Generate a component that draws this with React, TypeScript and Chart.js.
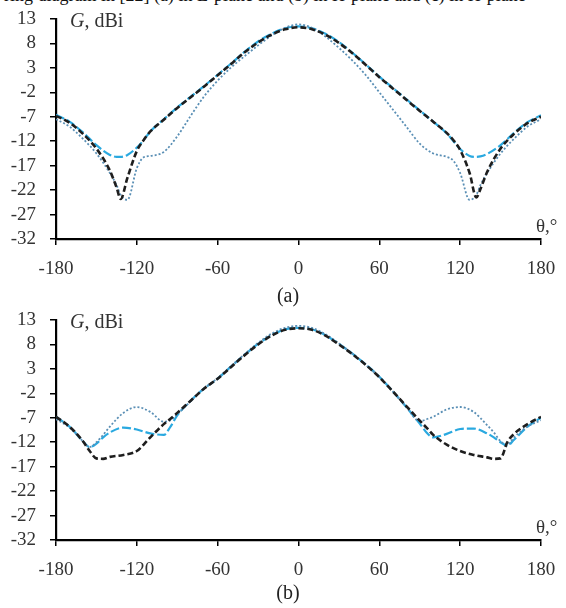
import React, { useEffect, useRef } from 'react';
import { Chart, registerables } from 'chart.js';

Chart.register(...registerables);

const xTicks = [-180, -120, -60, 0, 60, 120, 180];
const yTicks = [13, 8, 3, -2, -7, -12, -17, -22, -27, -32];

// Panel (a)
const anglesA = [-180, -170, -160, -150, -140, -135, -132, -127, -120, -115, -110, -100, -90, -80, -70, -60, -50, -40, -30, -20, -10, 0, 10, 20, 30, 40, 50, 60, 70, 80, 90, 100, 110, 115, 120, 127, 132, 135, 140, 150, 160, 170, 180];
const blackA = [-6.8, -8.2, -10.5, -13.5, -18, -21.5, -23.8, -19.5, -14, -11.8, -10, -7.6, -5.2, -3, -0.8, 1.5, 3.8, 6.2, 8.2, 9.8, 10.9, 11.3, 10.9, 9.8, 8.1, 6, 3.6, 1.1, -1.2, -3.5, -5.8, -8, -10.3, -11.8, -13.8, -18.5, -23.5, -21.8, -18.3, -13.5, -10.5, -8.3, -7];
const cyanA = [-6.6, -8, -10.2, -12.8, -14.8, -15.2, -15.2, -14.8, -13.3, -11.8, -10, -7.5, -5.1, -2.9, -0.7, 1.6, 3.9, 6.3, 8.4, 10, 11.1, 11.5, 11.1, 10, 8.3, 6.1, 3.7, 1.2, -1.1, -3.4, -5.7, -8, -10.4, -12, -13.6, -15, -15.2, -15.1, -14.6, -12.8, -10.3, -8.1, -6.7];
const dottedA = [-7.5, -9, -11.5, -14.5, -18.5, -21, -23, -24, -17.5, -15.3, -15, -14.2, -11, -6.8, -2.8, 0.4, 3.1, 5.4, 7.6, 9.6, 11.2, 11.9, 11.2, 9.4, 7.1, 4.5, 1.5, -2, -5.5, -9, -12.5, -14.5, -15.2, -16, -18.5, -24, -23, -21, -18.5, -14.5, -11.5, -9, -7.5];

// Panel (b)
const anglesB = [-180, -170, -160, -155, -150, -145, -140, -130, -120, -110, -100, -95, -90, -80, -70, -60, -50, -40, -30, -20, -10, 0, 10, 20, 30, 40, 50, 60, 70, 80, 90, 95, 100, 110, 120, 130, 140, 145, 150, 155, 160, 170, 180];
const blackB = [-6.8, -8.8, -11.8, -13.8, -15.3, -15.4, -15, -14.6, -13.8, -11, -8.3, -7.2, -6, -3.5, -1, 1, 3.4, 5.8, 8, 9.8, 11, 11.3, 11, 9.8, 8, 6, 3.8, 1.3, -1.6, -4.6, -7.6, -9, -10.5, -12.5, -13.8, -14.6, -15.1, -15.4, -15.3, -12, -10.3, -8.3, -6.8];
const cyanB = [-6.8, -8.8, -11.8, -13, -12.3, -11, -10, -9, -9.4, -10.2, -10.5, -8.8, -6.5, -3.5, -1, 1, 3.5, 5.9, 8.1, 9.9, 11.1, 11.4, 11.1, 9.9, 8.1, 6.1, 3.9, 1.4, -1.6, -4.8, -8.2, -10, -11, -10.3, -9.3, -9.2, -10.2, -11, -12, -12.7, -11.5, -8.8, -7];
const dottedB = [-7.3, -9, -11.8, -13, -12, -10.5, -8.8, -6, -4.8, -5.8, -7.8, -7.5, -6.3, -3.6, -1, 1.1, 3.6, 6, 8.3, 10.2, 11.4, 11.8, 11.4, 10.1, 8.2, 6.1, 3.8, 1.3, -1.6, -4.8, -7.7, -7.3, -6.8, -5.3, -4.8, -5.8, -8.5, -10, -11.8, -12.5, -11, -8.8, -7.5];

const SERIF = "'Liberation Serif', 'DejaVu Serif', serif";
const CW = 566;
const CH = 290;

function pts(angles: number[], vals: number[]) {
  return angles.map((a, i) => ({ x: a, y: vals[i] }));
}

function Panel(props: { angles: number[]; black: number[]; cyan: number[]; dotted: number[] }) {
  const ref = useRef<HTMLCanvasElement | null>(null);
  useEffect(() => {
    if (!ref.current) return;
    const { angles, black, cyan, dotted } = props;
    const axisCommon = {
      type: 'linear' as const,
      grid: { display: true, drawOnChartArea: false, drawTicks: true, tickLength: 6, color: '#000', lineWidth: 1.5 },
      border: { display: true, color: '#000', width: 2.2 },
    };
    const chart = new Chart(ref.current, {
      type: 'line',
      data: {
        datasets: [
          { data: pts(angles, black), borderColor: '#1e1e1e', borderWidth: 2.6, borderDash: [6, 3], pointRadius: 0, fill: false, cubicInterpolationMode: 'monotone' },
          { data: pts(angles, dotted), borderColor: '#5a8fb5', borderWidth: 1.8, borderDash: [2, 2], pointRadius: 0, fill: false, cubicInterpolationMode: 'monotone' },
          { data: pts(angles, cyan), borderColor: '#2aa9e0', borderWidth: 2.2, borderDash: [9, 3], pointRadius: 0, fill: false, cubicInterpolationMode: 'monotone' },
        ],
      },
      options: {
        animation: false,
        responsive: false,
        maintainAspectRatio: false,
        layout: { autoPadding: false, padding: { left: 0, right: 25, top: 19, bottom: 11 } },
        plugins: { legend: { display: false }, tooltip: { enabled: false } },
        scales: {
          x: {
            ...axisCommon,
            min: -180,
            max: 180,
            afterBuildTicks: (s: any) => { s.ticks = xTicks.map((v) => ({ value: v })); },
            afterFit: (s: any) => { s.height = 40; s.paddingLeft = 0; s.paddingRight = 0; },
            ticks: { color: '#333', font: { family: SERIF, size: 19 }, padding: 13, maxRotation: 0, autoSkip: false },
          },
          y: {
            ...axisCommon,
            min: -32,
            max: 13,
            afterBuildTicks: (s: any) => { s.ticks = yTicks.map((v) => ({ value: v })); },
            afterFit: (s: any) => { s.width = 56; s.paddingTop = 0; s.paddingBottom = 0; },
            ticks: { color: '#333', font: { family: SERIF, size: 19 }, padding: 14, autoSkip: false },
          },
        },
      },
    } as any);
    return () => chart.destroy();
  }, []);
  return <canvas ref={ref} width={CW} height={CH} style={{ width: CW, height: CH, display: 'block' }} />;
}

const textBase: React.CSSProperties = { position: 'absolute', fontFamily: SERIF, color: '#222', whiteSpace: 'nowrap', lineHeight: '20px' };

export default function App() {
  return (
    <div style={{ position: 'absolute', left: 0, top: 0, width: CW, height: 608, overflow: 'hidden', background: '#fff' }}>
      <div style={{ ...textBase, top: -14, left: 4, fontSize: 18, lineHeight: '18px', color: '#111' }}>
        ring diagram in [22] (a) in E-plane and (b) in H-plane and (c) in H-plane
      </div>
      <div style={{ position: 'absolute', left: 0, top: 0 }}>
        <Panel angles={anglesA} black={blackA} cyan={cyanA} dotted={dottedA} />
      </div>
      <div style={{ position: 'absolute', left: 0, top: 301 }}>
        <Panel angles={anglesB} black={blackB} cyan={cyanB} dotted={dottedB} />
      </div>
      <div style={{ ...textBase, left: 70, top: 10, fontSize: 20, color: '#333' }}><i>G</i>, dBi</div>
      <div style={{ ...textBase, left: 70, top: 311, fontSize: 20, color: '#333' }}><i>G</i>, dBi</div>
      <div style={{ ...textBase, left: 536, top: 216, fontSize: 19, color: '#333' }}>θ,°</div>
      <div style={{ ...textBase, left: 536, top: 517, fontSize: 19, color: '#333' }}>θ,°</div>
      <div style={{ ...textBase, left: 0, width: 576, textAlign: 'center', top: 285, fontSize: 20 }}>(a)</div>
      <div style={{ ...textBase, left: 0, width: 576, textAlign: 'center', top: 582, fontSize: 20 }}>(b)</div>
    </div>
  );
}
